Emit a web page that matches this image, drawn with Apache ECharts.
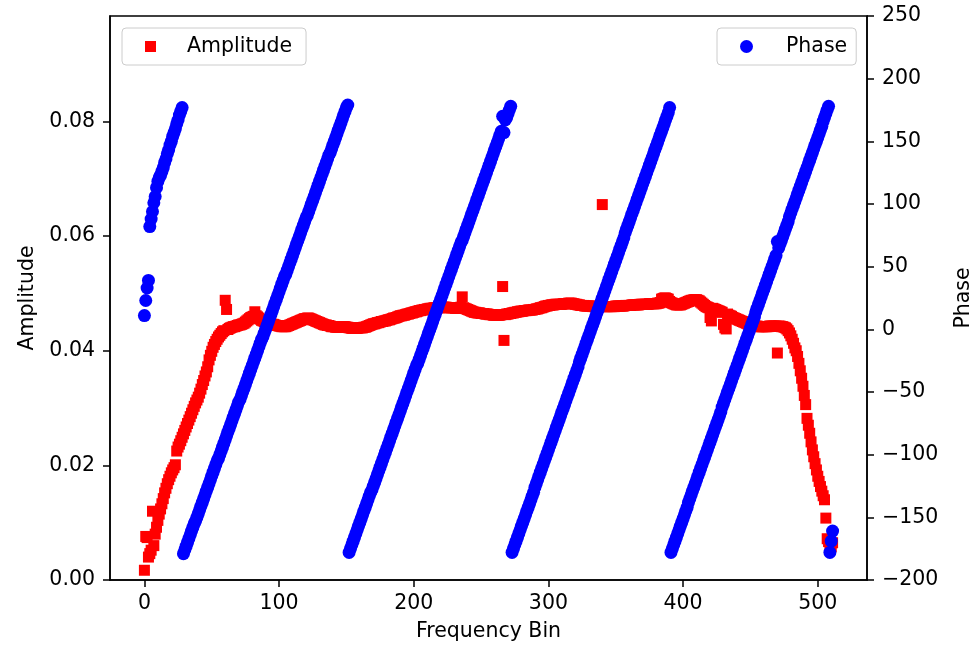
<!DOCTYPE html>
<html><head><meta charset="utf-8">
<script src="https://cdn.jsdelivr.net/npm/echarts@6/dist/echarts.min.js"></script>
<style>html,body{margin:0;padding:0;background:#fff}#c{width:970px;height:650px}</style>
</head><body><div id="c"></div>
<script>
// Amplitude per frequency bin (index = bin 0..511)
const amplitude = [
0.0017,0.0076,0.0074,0.0040,0.0046,0.0052,0.0120,0.0060,0.0080,0.0092,
0.0104,0.0115,0.0124,0.0133,0.0142,0.0152,0.0160,0.0168,0.0175,0.0181,
0.0187,0.0192,0.0196,0.0201,0.0225,0.0232,0.0237,0.0243,0.0249,0.0255,
0.0261,0.0267,0.0273,0.0279,0.0285,0.0291,0.0297,0.0303,0.0309,0.0314,
0.0319,0.0326,0.0333,0.0341,0.0348,0.0356,0.0363,0.0372,0.0384,0.0392,
0.0399,0.0406,0.0411,0.0416,0.0420,0.0424,0.0427,0.0430,0.0433,0.0435,
0.0488,0.0472,0.0437,0.0439,0.0440,0.0441,0.0442,0.0442,0.0443,0.0444,
0.0445,0.0445,0.0446,0.0447,0.0448,0.0450,0.0452,0.0454,0.0456,0.0458,
0.0459,0.0460,0.0468,0.0461,0.0459,0.0457,0.0455,0.0453,0.0452,0.0451,
0.0450,0.0449,0.0448,0.0448,0.0447,0.0446,0.0446,0.0445,0.0444,0.0444,
0.0443,0.0443,0.0442,0.0442,0.0442,0.0442,0.0443,0.0444,0.0445,0.0446,
0.0447,0.0448,0.0449,0.0450,0.0451,0.0452,0.0453,0.0454,0.0455,0.0456,
0.0456,0.0457,0.0457,0.0456,0.0455,0.0454,0.0453,0.0452,0.0451,0.0450,
0.0449,0.0448,0.0447,0.0446,0.0445,0.0445,0.0444,0.0444,0.0443,0.0442,
0.0442,0.0442,0.0441,0.0441,0.0441,0.0441,0.0441,0.0442,0.0442,0.0442,
0.0441,0.0441,0.0440,0.0440,0.0439,0.0439,0.0439,0.0439,0.0439,0.0440,
0.0440,0.0440,0.0440,0.0441,0.0441,0.0442,0.0443,0.0444,0.0445,0.0446,
0.0447,0.0447,0.0448,0.0449,0.0449,0.0450,0.0451,0.0451,0.0452,0.0452,
0.0453,0.0454,0.0454,0.0455,0.0456,0.0457,0.0457,0.0458,0.0459,0.0460,
0.0461,0.0461,0.0462,0.0462,0.0463,0.0464,0.0464,0.0465,0.0466,0.0466,
0.0467,0.0468,0.0468,0.0469,0.0470,0.0470,0.0471,0.0471,0.0472,0.0472,
0.0473,0.0473,0.0474,0.0474,0.0474,0.0475,0.0475,0.0475,0.0475,0.0475,
0.0476,0.0476,0.0476,0.0476,0.0476,0.0475,0.0475,0.0475,0.0475,0.0475,
0.0475,0.0474,0.0474,0.0474,0.0475,0.0476,0.0494,0.0475,0.0474,0.0473,
0.0472,0.0471,0.0470,0.0469,0.0468,0.0467,0.0467,0.0466,0.0466,0.0466,
0.0465,0.0465,0.0465,0.0464,0.0464,0.0464,0.0463,0.0463,0.0463,0.0462,
0.0462,0.0462,0.0462,0.0462,0.0462,0.0463,0.0512,0.0418,0.0463,0.0464,
0.0464,0.0465,0.0465,0.0466,0.0466,0.0467,0.0467,0.0468,0.0468,0.0469,
0.0469,0.0469,0.0470,0.0470,0.0470,0.0471,0.0471,0.0471,0.0471,0.0472,
0.0472,0.0473,0.0473,0.0474,0.0475,0.0475,0.0476,0.0477,0.0478,0.0478,
0.0479,0.0479,0.0480,0.0480,0.0480,0.0481,0.0481,0.0481,0.0481,0.0481,
0.0481,0.0482,0.0482,0.0482,0.0482,0.0483,0.0483,0.0483,0.0482,0.0482,
0.0481,0.0481,0.0480,0.0480,0.0479,0.0479,0.0479,0.0478,0.0478,0.0478,
0.0478,0.0478,0.0478,0.0477,0.0477,0.0477,0.0477,0.0477,0.0477,0.0477,
0.0655,0.0477,0.0477,0.0477,0.0477,0.0477,0.0477,0.0477,0.0477,0.0477,
0.0478,0.0478,0.0478,0.0478,0.0478,0.0478,0.0478,0.0479,0.0479,0.0479,
0.0479,0.0479,0.0480,0.0480,0.0480,0.0480,0.0480,0.0480,0.0481,0.0481,
0.0481,0.0481,0.0481,0.0481,0.0481,0.0482,0.0482,0.0482,0.0482,0.0482,
0.0482,0.0483,0.0483,0.0484,0.0490,0.0491,0.0492,0.0492,0.0491,0.0490,
0.0486,0.0484,0.0483,0.0482,0.0481,0.0480,0.0480,0.0480,0.0480,0.0481,
0.0482,0.0483,0.0484,0.0485,0.0486,0.0487,0.0488,0.0488,0.0489,0.0489,
0.0489,0.0488,0.0487,0.0485,0.0483,0.0481,0.0479,0.0477,0.0476,0.0475,
0.0458,0.0452,0.0474,0.0473,0.0472,0.0471,0.0470,0.0469,0.0468,0.0467,
0.0446,0.0440,0.0438,0.0464,0.0462,0.0461,0.0460,0.0458,0.0457,0.0456,
0.0455,0.0454,0.0453,0.0452,0.0451,0.0450,0.0449,0.0448,0.0447,0.0446,
0.0445,0.0444,0.0444,0.0443,0.0443,0.0443,0.0442,0.0442,0.0442,0.0442,
0.0442,0.0442,0.0442,0.0442,0.0443,0.0443,0.0443,0.0443,0.0443,0.0443,
0.0396,0.0443,0.0443,0.0442,0.0442,0.0441,0.0440,0.0438,0.0435,0.0431,
0.0426,0.0420,0.0413,0.0405,0.0400,0.0390,0.0378,0.0365,0.0352,0.0338,
0.0322,0.0306,0.0282,0.0270,0.0256,0.0241,0.0227,0.0215,0.0203,0.0192,
0.0181,0.0172,0.0163,0.0155,0.0147,0.0140,0.0108,0.0072,0.0067,0.0061,
0.0058,0.0065
];

// Phase (degrees) per frequency bin (index = bin 0..511)
const phase = [
11,23,33,39,82,88,94,101,106,113,118,121,123,126,129,133,136,140,143,147,
150,154,157,160,164,167,171,174,177,
-179,-176,-173,-170,-167,-164,-161,-158,-155,-153,
-150,-147,-144,-141,-138,-135,-132,-129,-126,-123,
-120,-117,-114,-111,-108,-105,-103,-100,-97,-94,
-91,-88,-85,-82,-79,-76,-73,-70,-67,-64,
-61,-58,-56,-53,-50,-47,-44,-41,-38,-35,
-32,-29,-26,-23,-20,-17,-14,-11,-8,-6,
-3,0,3,6,9,12,15,18,21,24,
27,30,33,36,39,42,44,47,50,53,
56,59,62,65,68,71,74,77,80,83,
86,89,91,94,97,100,103,106,109,112,
115,118,121,124,127,130,133,136,139,141,
144,147,150,153,156,159,162,165,168,171,
174,177,179,
-178,-175,-172,-169,-166,-163,-160,-157,-154,-151,
-148,-145,-142,-139,-136,-133,-130,-128,-125,-122,
-119,-116,-113,-110,-107,-104,-101,-98,-95,-92,
-89,-86,-83,-80,-77,-74,-71,-68,-65,-62,
-59,-56,-53,-50,-47,-44,-41,-38,-35,-32,
-29,-27,-24,-21,-18,-15,-12,-9,-6,-3,
0,3,6,9,12,15,18,21,24,27,
30,33,36,39,42,45,48,51,54,57,
60,63,66,69,71,74,77,80,83,86,
89,92,95,98,101,104,107,110,113,116,
119,122,125,128,131,134,137,140,143,146,
149,152,155,158,170,157,167,169,172,175,
178,
-178,-175,-172,-169,-166,-163,-160,-157,-154,-151,
-148,-145,-142,-139,-136,-133,-130,-126,-123,-120,
-117,-114,-111,-108,-105,-102,-99,-96,-93,-90,
-87,-84,-81,-78,-75,-72,-69,-66,-63,-60,
-57,-54,-51,-48,-45,-42,-39,-36,-33,-30,
-26,-23,-20,-17,-14,-11,-8,-5,-2,1,
4,7,10,13,16,19,22,25,28,31,
34,37,40,43,46,49,52,55,58,61,
64,67,70,73,77,80,83,86,89,92,
95,98,101,104,107,110,113,116,119,122,
125,128,131,134,137,140,143,146,149,152,
155,158,161,164,167,170,173,177,
-178,-175,-172,-169,-166,-163,-160,-157,-154,-151,
-148,-145,-142,-138,-135,-132,-129,-126,-123,-120,
-117,-114,-111,-108,-105,-102,-99,-96,-93,-90,
-87,-84,-81,-78,-75,-72,-69,-66,-62,-59,
-56,-53,-50,-47,-44,-41,-38,-35,-32,-29,
-26,-23,-20,-17,-14,-11,-8,-5,-2,1,
4,7,10,14,17,20,23,26,29,32,
35,38,41,44,47,50,53,56,59,70,
65,68,71,74,77,80,83,86,90,93,
96,99,102,105,108,111,114,117,120,123,
126,129,132,135,138,141,144,147,150,153,
156,159,162,166,169,172,175,178,
-178,-169,-161
];

const xTicks = [0, 100, 200, 300, 400, 500];
const ampTicks = [0, 0.02, 0.04, 0.06, 0.08];
const phaseTicks = [-200, -150, -100, -50, 0, 50, 100, 150, 200, 250];

const FONT = 'DejaVu Sans';
const FS = 20.5;
const txt = {fontFamily: FONT, fontSize: FS, color: '#000'};
const lineBlack = {color: '#000', width: 1.5};

const chart = echarts.init(document.getElementById('c'), null, {renderer: 'canvas'});
const ampData = amplitude.map((v, i) => [i, v]);
const phaseData = phase.map((v, i) => [i, v]);
const minus = v => (v < 0 ? '\u2212' + Math.abs(v) : String(v));

chart.setOption({
  animation: false,
  backgroundColor: '#fff',
  grid: {left: 110, right: 103, top: 16, bottom: 70, show: true, borderColor: '#000', borderWidth: 1.5,
         containLabel: false, outerBoundsMode: 'none'},
  legend: [
    {data: [{name: 'Amplitude', icon: 'rect'}], left: 122, top: 28, itemWidth: 11, itemHeight: 11,
     padding: [8, 14, 8, 23], borderColor: '#cccccc', borderWidth: 1, borderRadius: 4,
     backgroundColor: 'rgba(255,255,255,0.8)', selectedMode: false,
     textStyle: Object.assign({}, txt, {padding: [0, 0, 0, 26]})},
    {data: [{name: 'Phase', icon: 'circle'}], left: 717, top: 28, itemWidth: 13, itemHeight: 13,
     padding: [8, 9, 8, 23], borderColor: '#cccccc', borderWidth: 1, borderRadius: 4,
     backgroundColor: 'rgba(255,255,255,0.8)', selectedMode: false,
     textStyle: Object.assign({}, txt, {padding: [0, 0, 0, 28]})}
  ],
  xAxis: {
    type: 'value', min: -25.55, max: 536.55,
    name: 'Frequency Bin', nameLocation: 'middle', nameGap: 41, nameTextStyle: txt,
    axisLine: {show: true, onZero: false, lineStyle: lineBlack},
    axisTick: {show: true, length: 7, lineStyle: lineBlack, customValues: xTicks},
    axisLabel: Object.assign({customValues: xTicks, margin: 13}, txt),
    splitLine: {show: false}
  },
  yAxis: [
    {
      type: 'value', position: 'left', min: 0, max: 0.0984,
      name: 'Amplitude', nameLocation: 'middle', nameRotate: 90, nameGap: 70, nameTextStyle: txt,
      axisLine: {show: true, onZero: false, lineStyle: lineBlack},
      axisTick: {show: true, length: 7, lineStyle: lineBlack, customValues: ampTicks},
      axisLabel: Object.assign({customValues: ampTicks, margin: 15, formatter: v => Number(v).toFixed(2)}, txt),
      splitLine: {show: false}
    },
    {
      type: 'value', position: 'right', min: -200, max: 250, interval: 50,
      name: 'Phase', nameLocation: 'middle', nameRotate: 90, nameGap: 86, nameTextStyle: txt,
      axisLine: {show: true, onZero: false, lineStyle: lineBlack},
      axisTick: {show: true, length: 7, lineStyle: lineBlack, customValues: phaseTicks},
      axisLabel: Object.assign({customValues: phaseTicks, margin: 15, formatter: minus}, txt),
      splitLine: {show: false}
    }
  ],
  series: [
    {type: 'scatter', name: 'Amplitude', xAxisIndex: 0, yAxisIndex: 0, data: ampData,
     symbol: 'rect', symbolSize: 11, itemStyle: {color: '#ff0000', opacity: 1}, z: 2, silent: true},
    {type: 'scatter', name: 'Phase', xAxisIndex: 0, yAxisIndex: 1, data: phaseData,
     symbol: 'circle', symbolSize: 13, itemStyle: {color: '#0000ff', opacity: 1}, z: 3, silent: true}
  ]
});
</script>
</body></html>
